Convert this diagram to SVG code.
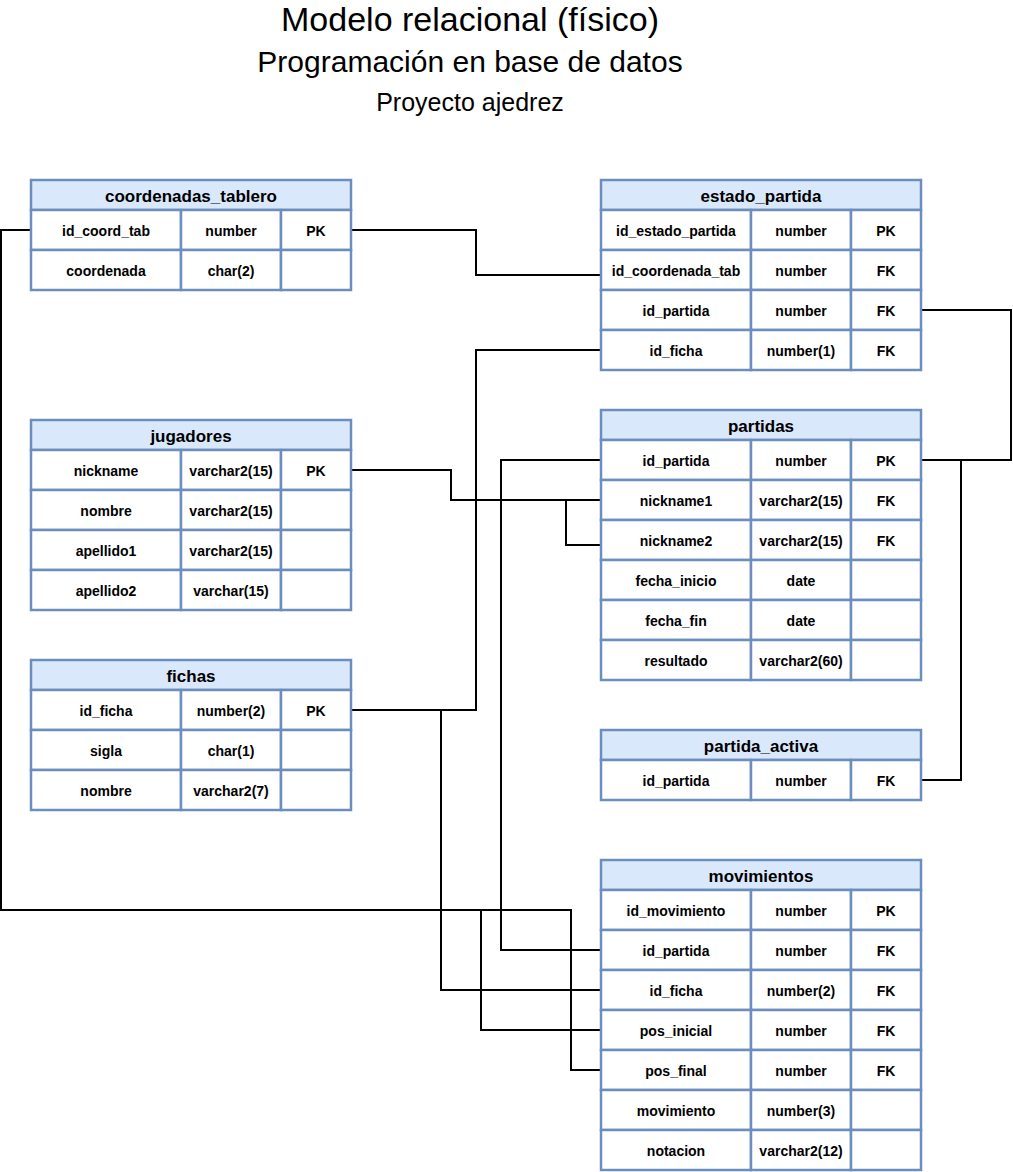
<svg xmlns="http://www.w3.org/2000/svg" width="1013" height="1172" viewBox="0 0 1013 1172">
<style>
.bg{fill:#ffffff}
.hdr{fill:#dae8fc;stroke:#6c8ebf;stroke-width:2.5}
.cell{fill:#ffffff;stroke:#6c8ebf;stroke-width:2.5}
.t{font-family:"Liberation Sans",Arial,Helvetica,sans-serif;font-weight:bold;font-size:14px;text-anchor:middle;fill:#000}
.h{font-size:17px}
.title{font-family:"Liberation Sans",Arial,Helvetica,sans-serif;text-anchor:middle;fill:#000}
.con{fill:none;stroke:#000;stroke-width:2}
</style>
<rect class="bg" x="0" y="0" width="1013" height="1172"/>
<g id="titles">
<text class="title" x="470" y="31" font-size="34">Modelo relacional (físico)</text>
<text class="title" x="470" y="72" font-size="30">Programación en base de datos</text>
<text class="title" x="470" y="111" font-size="25">Proyecto ajedrez</text>
</g>
<g id="connectors">
<path class="con" d="M351,230 H476 V275 H601"/>
<path class="con" d="M31,230 H1 V910 H571 V1070 H601"/>
<path class="con" d="M31,230 H1 V910 H481 V1030 H601"/>
<path class="con" d="M351,710 H441 V990 H601"/>
<path class="con" d="M351,710 H476 V350 H601"/>
<path class="con" d="M601,460 H501 V950 H601"/>
<path class="con" d="M351,470 H451 V500 H601"/>
<path class="con" d="M351,470 H451 V500 H566 V545 H601"/>
<path class="con" d="M921,310 H1011 V460 H921"/>
<path class="con" d="M921,780 H961 V460 H921"/>
</g>
<g id="coordenadas_tablero">
<rect class="hdr" x="31" y="180" width="320" height="30"/>
<text class="t h" x="191" y="202">coordenadas_tablero</text>
<rect class="cell" x="31" y="210" width="150" height="40"/><rect class="cell" x="181" y="210" width="100" height="40"/><rect class="cell" x="281" y="210" width="70" height="40"/>
<text class="t" x="106" y="236">id_coord_tab</text><text class="t" x="231" y="236">number</text><text class="t" x="316" y="236">PK</text>
<rect class="cell" x="31" y="250" width="150" height="40"/><rect class="cell" x="181" y="250" width="100" height="40"/><rect class="cell" x="281" y="250" width="70" height="40"/>
<text class="t" x="106" y="276">coordenada</text><text class="t" x="231" y="276">char(2)</text>
</g>
<g id="estado_partida">
<rect class="hdr" x="601" y="180" width="320" height="30"/>
<text class="t h" x="761" y="202">estado_partida</text>
<rect class="cell" x="601" y="210" width="150" height="40"/><rect class="cell" x="751" y="210" width="100" height="40"/><rect class="cell" x="851" y="210" width="70" height="40"/>
<text class="t" x="676" y="236">id_estado_partida</text><text class="t" x="801" y="236">number</text><text class="t" x="886" y="236">PK</text>
<rect class="cell" x="601" y="250" width="150" height="40"/><rect class="cell" x="751" y="250" width="100" height="40"/><rect class="cell" x="851" y="250" width="70" height="40"/>
<text class="t" x="676" y="276">id_coordenada_tab</text><text class="t" x="801" y="276">number</text><text class="t" x="886" y="276">FK</text>
<rect class="cell" x="601" y="290" width="150" height="40"/><rect class="cell" x="751" y="290" width="100" height="40"/><rect class="cell" x="851" y="290" width="70" height="40"/>
<text class="t" x="676" y="316">id_partida</text><text class="t" x="801" y="316">number</text><text class="t" x="886" y="316">FK</text>
<rect class="cell" x="601" y="330" width="150" height="40"/><rect class="cell" x="751" y="330" width="100" height="40"/><rect class="cell" x="851" y="330" width="70" height="40"/>
<text class="t" x="676" y="356">id_ficha</text><text class="t" x="801" y="356">number(1)</text><text class="t" x="886" y="356">FK</text>
</g>
<g id="jugadores">
<rect class="hdr" x="31" y="420" width="320" height="30"/>
<text class="t h" x="191" y="442">jugadores</text>
<rect class="cell" x="31" y="450" width="150" height="40"/><rect class="cell" x="181" y="450" width="100" height="40"/><rect class="cell" x="281" y="450" width="70" height="40"/>
<text class="t" x="106" y="476">nickname</text><text class="t" x="231" y="476">varchar2(15)</text><text class="t" x="316" y="476">PK</text>
<rect class="cell" x="31" y="490" width="150" height="40"/><rect class="cell" x="181" y="490" width="100" height="40"/><rect class="cell" x="281" y="490" width="70" height="40"/>
<text class="t" x="106" y="516">nombre</text><text class="t" x="231" y="516">varchar2(15)</text>
<rect class="cell" x="31" y="530" width="150" height="40"/><rect class="cell" x="181" y="530" width="100" height="40"/><rect class="cell" x="281" y="530" width="70" height="40"/>
<text class="t" x="106" y="556">apellido1</text><text class="t" x="231" y="556">varchar2(15)</text>
<rect class="cell" x="31" y="570" width="150" height="40"/><rect class="cell" x="181" y="570" width="100" height="40"/><rect class="cell" x="281" y="570" width="70" height="40"/>
<text class="t" x="106" y="596">apellido2</text><text class="t" x="231" y="596">varchar(15)</text>
</g>
<g id="fichas">
<rect class="hdr" x="31" y="660" width="320" height="30"/>
<text class="t h" x="191" y="682">fichas</text>
<rect class="cell" x="31" y="690" width="150" height="40"/><rect class="cell" x="181" y="690" width="100" height="40"/><rect class="cell" x="281" y="690" width="70" height="40"/>
<text class="t" x="106" y="716">id_ficha</text><text class="t" x="231" y="716">number(2)</text><text class="t" x="316" y="716">PK</text>
<rect class="cell" x="31" y="730" width="150" height="40"/><rect class="cell" x="181" y="730" width="100" height="40"/><rect class="cell" x="281" y="730" width="70" height="40"/>
<text class="t" x="106" y="756">sigla</text><text class="t" x="231" y="756">char(1)</text>
<rect class="cell" x="31" y="770" width="150" height="40"/><rect class="cell" x="181" y="770" width="100" height="40"/><rect class="cell" x="281" y="770" width="70" height="40"/>
<text class="t" x="106" y="796">nombre</text><text class="t" x="231" y="796">varchar2(7)</text>
</g>
<g id="partidas">
<rect class="hdr" x="601" y="410" width="320" height="30"/>
<text class="t h" x="761" y="432">partidas</text>
<rect class="cell" x="601" y="440" width="150" height="40"/><rect class="cell" x="751" y="440" width="100" height="40"/><rect class="cell" x="851" y="440" width="70" height="40"/>
<text class="t" x="676" y="466">id_partida</text><text class="t" x="801" y="466">number</text><text class="t" x="886" y="466">PK</text>
<rect class="cell" x="601" y="480" width="150" height="40"/><rect class="cell" x="751" y="480" width="100" height="40"/><rect class="cell" x="851" y="480" width="70" height="40"/>
<text class="t" x="676" y="506">nickname1</text><text class="t" x="801" y="506">varchar2(15)</text><text class="t" x="886" y="506">FK</text>
<rect class="cell" x="601" y="520" width="150" height="40"/><rect class="cell" x="751" y="520" width="100" height="40"/><rect class="cell" x="851" y="520" width="70" height="40"/>
<text class="t" x="676" y="546">nickname2</text><text class="t" x="801" y="546">varchar2(15)</text><text class="t" x="886" y="546">FK</text>
<rect class="cell" x="601" y="560" width="150" height="40"/><rect class="cell" x="751" y="560" width="100" height="40"/><rect class="cell" x="851" y="560" width="70" height="40"/>
<text class="t" x="676" y="586">fecha_inicio</text><text class="t" x="801" y="586">date</text>
<rect class="cell" x="601" y="600" width="150" height="40"/><rect class="cell" x="751" y="600" width="100" height="40"/><rect class="cell" x="851" y="600" width="70" height="40"/>
<text class="t" x="676" y="626">fecha_fin</text><text class="t" x="801" y="626">date</text>
<rect class="cell" x="601" y="640" width="150" height="40"/><rect class="cell" x="751" y="640" width="100" height="40"/><rect class="cell" x="851" y="640" width="70" height="40"/>
<text class="t" x="676" y="666">resultado</text><text class="t" x="801" y="666">varchar2(60)</text>
</g>
<g id="partida_activa">
<rect class="hdr" x="601" y="730" width="320" height="30"/>
<text class="t h" x="761" y="752">partida_activa</text>
<rect class="cell" x="601" y="760" width="150" height="40"/><rect class="cell" x="751" y="760" width="100" height="40"/><rect class="cell" x="851" y="760" width="70" height="40"/>
<text class="t" x="676" y="786">id_partida</text><text class="t" x="801" y="786">number</text><text class="t" x="886" y="786">FK</text>
</g>
<g id="movimientos">
<rect class="hdr" x="601" y="860" width="320" height="30"/>
<text class="t h" x="761" y="882">movimientos</text>
<rect class="cell" x="601" y="890" width="150" height="40"/><rect class="cell" x="751" y="890" width="100" height="40"/><rect class="cell" x="851" y="890" width="70" height="40"/>
<text class="t" x="676" y="916">id_movimiento</text><text class="t" x="801" y="916">number</text><text class="t" x="886" y="916">PK</text>
<rect class="cell" x="601" y="930" width="150" height="40"/><rect class="cell" x="751" y="930" width="100" height="40"/><rect class="cell" x="851" y="930" width="70" height="40"/>
<text class="t" x="676" y="956">id_partida</text><text class="t" x="801" y="956">number</text><text class="t" x="886" y="956">FK</text>
<rect class="cell" x="601" y="970" width="150" height="40"/><rect class="cell" x="751" y="970" width="100" height="40"/><rect class="cell" x="851" y="970" width="70" height="40"/>
<text class="t" x="676" y="996">id_ficha</text><text class="t" x="801" y="996">number(2)</text><text class="t" x="886" y="996">FK</text>
<rect class="cell" x="601" y="1010" width="150" height="40"/><rect class="cell" x="751" y="1010" width="100" height="40"/><rect class="cell" x="851" y="1010" width="70" height="40"/>
<text class="t" x="676" y="1036">pos_inicial</text><text class="t" x="801" y="1036">number</text><text class="t" x="886" y="1036">FK</text>
<rect class="cell" x="601" y="1050" width="150" height="40"/><rect class="cell" x="751" y="1050" width="100" height="40"/><rect class="cell" x="851" y="1050" width="70" height="40"/>
<text class="t" x="676" y="1076">pos_final</text><text class="t" x="801" y="1076">number</text><text class="t" x="886" y="1076">FK</text>
<rect class="cell" x="601" y="1090" width="150" height="40"/><rect class="cell" x="751" y="1090" width="100" height="40"/><rect class="cell" x="851" y="1090" width="70" height="40"/>
<text class="t" x="676" y="1116">movimiento</text><text class="t" x="801" y="1116">number(3)</text>
<rect class="cell" x="601" y="1130" width="150" height="40"/><rect class="cell" x="751" y="1130" width="100" height="40"/><rect class="cell" x="851" y="1130" width="70" height="40"/>
<text class="t" x="676" y="1156">notacion</text><text class="t" x="801" y="1156">varchar2(12)</text>
</g>
</svg>
